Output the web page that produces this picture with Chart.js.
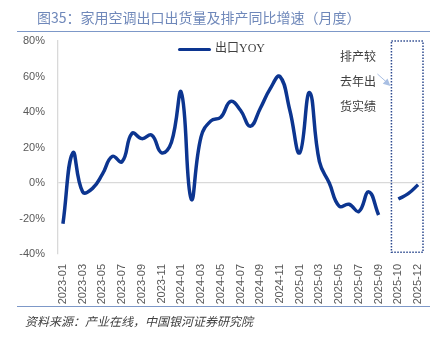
<!DOCTYPE html>
<html>
<head>
<meta charset="utf-8">
<script src="https://cdn.jsdelivr.net/npm/chart.js@4"></script>
<style>
  body { margin: 0; background: #fff; }
  #wrap { position: relative; width: 448px; height: 338px; overflow: hidden; font-family: "Liberation Sans", "Noto Sans CJK SC", sans-serif; }
  #chart { position: absolute; left: 0; top: 0; }
  .title { position: absolute; left: 37px; top: 7px; font-size: 14px; color: #6f88ba; font-family: "Noto Sans CJK SC", sans-serif; white-space: nowrap; }
  .rule { position: absolute; left: 17px; width: 413px; height: 1px; background: #7d98c8; }
  .source { position: absolute; left: 25px; top: 312px; font-size: 12px; font-style: italic; color: #404040; font-family: "Noto Sans CJK SC", sans-serif; white-space: nowrap; }
  .legend { position: absolute; left: 178px; top: 38px; font-size: 12px; color: #404040; font-family: "Liberation Serif", "Noto Sans CJK SC", serif; white-space: nowrap; }
  .legend i { display: inline-block; width: 33px; height: 3px; background: #0c3590; vertical-align: middle; margin-right: 4px; border-radius: 2px; }
  .note { position: absolute; left: 340px; font-size: 12px; color: #404040; font-family: "Noto Sans CJK SC", serif; white-space: nowrap; }
</style>
</head>
<body>
<div id="wrap">
  <canvas id="chart" width="448" height="338"></canvas>
  <div class="title">图35：家用空调出口出货量及排产同比增速（月度）</div>
  <div class="rule" style="top:31px"></div>
  <div class="legend"><i></i>出口YOY</div>
  <div class="note" style="top:47px">排产较</div>
  <div class="note" style="top:72px">去年出</div>
  <div class="note" style="top:97px">货实绩</div>
  <div class="rule" style="top:306px"></div>
  <div class="source">资料来源：产业在线，中国银河证券研究院</div>
</div>
<script>
// 月份：2025-09 之后空一格，再接排产 10-12 月
const months = [
  '2023-01','2023-02','2023-03','2023-04','2023-05','2023-06','2023-07','2023-08','2023-09','2023-10','2023-11','2023-12',
  '2024-01','2024-02','2024-03','2024-04','2024-05','2024-06','2024-07','2024-08','2024-09','2024-10','2024-11','2024-12',
  '2025-01','2025-02','2025-03','2025-04','2025-05','2025-06','2025-07','2025-08','2025-09','',
  '2025-10','2025-11','2025-12'
];

// 出口YOY (%)
const exportYoy = [
  -23, 17, -5, -3, 5, 15, 12, 28, 25, 27, 17, 23,
  51, -9, 26, 35, 37, 46, 41, 32, 42, 53, 60, 41,
  17, 51, 12, 0, -13, -12, -16, -5, -18, null,
  -9, -6, -1
];

const yTicks = [-40, -20, 0, 20, 40, 60, 80];

// 排产框范围（类目索引）
const boxStart = 33.3;
const boxTop = 80;
const boxBottom = -39;

const boxPlugin = {
  id: 'planBox',
  afterDatasetsDraw(chart) {
    const { ctx, scales: { x, y }, chartArea } = chart;
    const step = x.getPixelForValue(1) - x.getPixelForValue(0);
    const left = x.getPixelForValue(0) + boxStart * step;
    const right = chartArea.right;
    const top = y.getPixelForValue(boxTop);
    const bottom = y.getPixelForValue(boxBottom);
    ctx.save();
    ctx.strokeStyle = '#2d4a8f';
    ctx.lineWidth = 1.5;
    ctx.setLineDash([1.5, 1.5]);
    ctx.strokeRect(left, top, right - left, bottom - top);
    ctx.setLineDash([]);

    // arrow from note to box
    const ax = left - 14, ay = 74;
    const bx = left - 1, by = 86;
    ctx.strokeStyle = '#a9bfe3';
    ctx.fillStyle = '#a9bfe3';
    ctx.lineWidth = 1;
    ctx.beginPath();
    ctx.moveTo(ax, ay);
    ctx.lineTo(bx - 4, by - 4);
    ctx.stroke();
    const ang = Math.atan2(by - ay, bx - ax);
    ctx.beginPath();
    ctx.moveTo(bx, by);
    ctx.lineTo(bx - 8 * Math.cos(ang - 0.45), by - 8 * Math.sin(ang - 0.45));
    ctx.lineTo(bx - 8 * Math.cos(ang + 0.45), by - 8 * Math.sin(ang + 0.45));
    ctx.closePath();
    ctx.fill();
    ctx.restore();
  }
};

new Chart(document.getElementById('chart'), {
  type: 'line',
  data: {
    labels: months,
    datasets: [{
      label: '出口YOY',
      data: exportYoy,
      borderColor: '#0c3590',
      borderWidth: 3.5,
      pointRadius: 0,
      tension: 0.45,
      spanGaps: false,
      fill: false
    }]
  },
  options: {
    responsive: false,
    animation: false,
    layout: { padding: { left: 0, right: 25, top: 41, bottom: 0 } },
    plugins: { legend: { display: false }, tooltip: { enabled: false } },
    scales: {
      x: {
        offset: true,
        grid: { display: false, drawTicks: false },
        border: { display: false },
        ticks: {
          autoSkip: false,
          minRotation: 90,
          maxRotation: 90,
          padding: 10,
          color: '#595959',
          font: { family: 'Liberation Sans', size: 11 },
          callback: (v, i) => (i % 2 === 0 ? months[i] : '')
        },
        afterFit: (scale) => { scale.height = 84; }
      },
      y: {
        min: -40,
        max: 80,
        afterBuildTicks: (scale) => { scale.ticks = yTicks.map(v => ({ value: v })); },
        grid: {
          drawTicks: false,
          color: (c) => (c.tick && c.tick.value === 0 ? '#d9d9d9' : 'rgba(0,0,0,0)'),
          lineWidth: 1.3
        },
        border: { display: true, color: '#d9d9d9', width: 1.3 },
        ticks: {
          padding: 13,
          color: '#595959',
          font: { family: 'Liberation Sans', size: 11 },
          callback: (v) => v + '%'
        },
        afterFit: (scale) => { scale.width = 58; }
      }
    }
  },
  plugins: [boxPlugin]
});
</script>
</body>
</html>
